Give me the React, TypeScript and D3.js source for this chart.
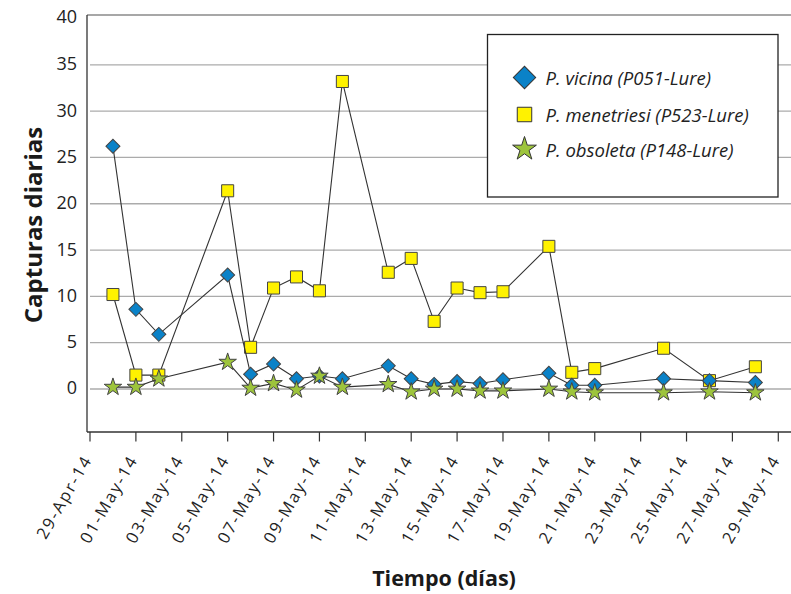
import * as d3 from 'd3';
import React from 'react';

const dates = [
  '2014-04-30', '2014-05-01', '2014-05-02', '2014-05-05', '2014-05-06', '2014-05-07',
  '2014-05-08', '2014-05-09', '2014-05-10', '2014-05-12', '2014-05-13', '2014-05-14',
  '2014-05-15', '2014-05-16', '2014-05-17', '2014-05-19', '2014-05-20', '2014-05-21',
  '2014-05-24', '2014-05-26', '2014-05-28'
];
const vicina = [26.2, 8.6, 5.9, 12.3, 1.6, 2.7, 1.1, 1.4, 1.1, 2.5, 1.1, 0.5, 0.8, 0.6, 1.0, 1.7, 0.4, 0.4, 1.1, 0.9, 0.7];
const menetriesi = [10.2, 1.5, 1.5, 21.4, 4.5, 10.9, 12.1, 10.6, 33.2, 12.6, 14.1, 7.3, 10.9, 10.4, 10.5, 15.4, 1.8, 2.2, 4.4, 0.9, 2.4];
const obsoleta = [0.2, 0.2, 1.1, 2.9, 0.1, 0.6, -0.1, 1.4, 0.2, 0.5, -0.3, 0.0, 0.0, -0.2, -0.2, 0.0, -0.3, -0.4, -0.4, -0.3, -0.4];
const yTicks = [0, 5, 10, 15, 20, 25, 30, 35, 40];
const seriesNames = ['P. vicina (P051-Lure)', 'P. menetriesi (P523-Lure)', 'P. obsoleta (P148-Lure)'];

const W = 791;
const H = 594;
const left = 87;
const right = 791;
const top = 15;
const bottom = 432;
const font = '"Open Sans", "Noto Sans", sans-serif';

const parse = d3.timeParse('%Y-%m-%d');
const fmt = d3.timeFormat('%d-%b-%y');

const x = d3.scaleTime()
  .domain([parse('2014-04-29')!, parse('2014-05-29')!])
  .range([90, 778.3]);
const y = d3.scaleLinear().domain([-5, 40]).range([435.3, 18.5]);

const xTicks = d3.timeDay.range(parse('2014-04-29')!, parse('2014-05-30')!, 2);

const line = d3.line<[Date, number]>()
  .x(d => x(d[0]))
  .y(d => y(d[1]));

const square = (s: number) => d3.symbol().type(d3.symbolSquare).size(s)()!;
const star = (s: number) => d3.symbol().type(d3.symbolStar).size(s)()!;

const seriesDefs = [
  {values: vicina, color: '#0a82c8', path: square(98), rot: 45, legend: square(250)},
  {values: menetriesi, color: '#fff200', path: square(145), rot: 0, legend: square(210)},
  {values: obsoleta, color: '#9dc43c', path: star(95), rot: 0, legend: star(175)},
];
// drawing order: squares, diamonds, stars
const drawOrder = [1, 0, 2];

export default function App() {
  const pts = (vals: number[]) => dates.map((d, i) => [parse(d)!, vals[i]] as [Date, number]);
  return (
    <svg width={W} height={H} style={{position: 'absolute', left: 0, top: 0, background: '#fff'}}
      fontFamily={font}>
      {yTicks.filter(t => t < 40).map(t => (
        <line key={t} x1={left + 3} x2={right} y1={y(t)} y2={y(t)} stroke="#ababab" strokeWidth={1.3}/>
      ))}
      <line x1={left} x2={right} y1={top} y2={top} stroke="#8a8a8a" strokeWidth={1.5}/>
      <line x1={left} x2={left} y1={top} y2={bottom} stroke="#333" strokeWidth={1.3}/>
      <line x1={left} x2={right} y1={bottom} y2={bottom} stroke="#333" strokeWidth={1.3}/>
      {yTicks.map(t => (
        <text key={t} x={77} y={t === 40 ? 16 : y(t) - 1.5} textAnchor="end" dominantBaseline="central"
          fontSize={18} fill="#222">{t}</text>
      ))}
      {xTicks.map(t => (
        <g key={+t}>
          <line x1={x(t)} x2={x(t)} y1={bottom} y2={bottom + 9.5} stroke="#333" strokeWidth={1.2}/>
          <text transform={`translate(${x(t) - 3},${bottom + 24}) rotate(-60)`} textAnchor="end"
            dominantBaseline="central" fontSize={16.5} letterSpacing={2} fill="#222">{fmt(t)}</text>
        </g>
      ))}
      {drawOrder.map(i => {
        const s = seriesDefs[i];
        const p = pts(s.values);
        return (
          <g key={i}>
            <path d={line(p)!} fill="none" stroke="#333" strokeWidth={1.1}/>
            {p.map((d, j) => (
              <path key={j} d={s.path} transform={`translate(${x(d[0])},${y(d[1])}) rotate(${s.rot})`}
                fill={s.color} stroke="#444" strokeWidth={1}/>
            ))}
          </g>
        );
      })}
      <rect x={487.5} y={34.5} width={290.5} height={162.5} fill="#fff" stroke="#222" strokeWidth={1.3}/>
      {[0, 1, 2].map(i => {
        const yy = [77.5, 114.5, 149][i];
        const s = seriesDefs[i];
        return (
          <g key={i}>
            <path d={s.legend} transform={`translate(524.5,${yy}) rotate(${s.rot})`} fill={s.color}
              stroke="#333" strokeWidth={1}/>
            <text x={545.5} y={yy} dominantBaseline="central" fontSize={18.5} fontStyle="italic"
              fill="#222">{seriesNames[i]}</text>
          </g>
        );
      })}
      <text transform="translate(32,225) rotate(-90)" textAnchor="middle" dominantBaseline="central"
        fontSize={24} fontWeight="bold" fill="#1a1a1a">Capturas diarias</text>
      <text x={444} y={577} textAnchor="middle" dominantBaseline="central" fontSize={21.5}
        fontWeight="bold" fill="#1a1a1a">Tiempo (días)</text>
    </svg>
  );
}
